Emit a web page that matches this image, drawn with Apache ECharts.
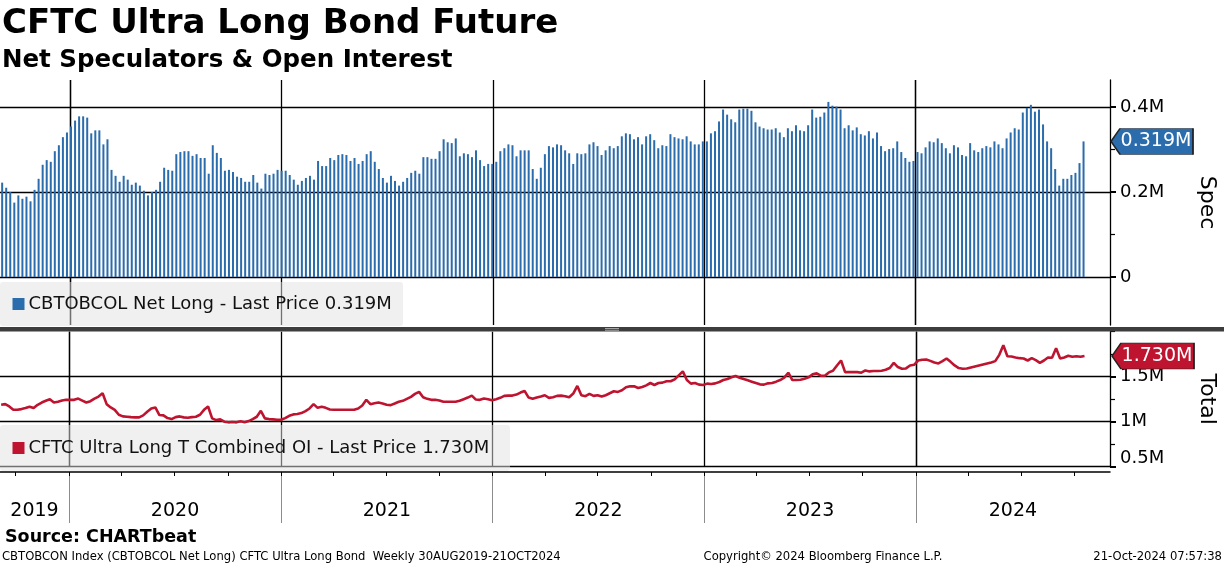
<!DOCTYPE html>
<html><head><meta charset="utf-8">
<script src="https://cdn.jsdelivr.net/npm/echarts@6/dist/echarts.min.js"></script>
<style>html,body{margin:0;padding:0;background:#fff}#c{width:1224px;height:566px}</style>
</head><body><div id="c"></div>
<script>
// Weekly CFTC data, Sep 2019 - Oct 2024 (millions of contracts)
const netLong = [
0.222,0.210,0.200,0.175,0.192,0.184,0.189,0.178,0.205,0.231,
0.264,0.275,0.271,0.296,0.310,0.329,0.340,0.354,0.368,0.378,
0.378,0.375,0.338,0.345,0.345,0.312,0.324,0.252,0.238,0.224,
0.238,0.229,0.217,0.222,0.215,0.203,0.192,0.200,0.205,0.224,
0.257,0.252,0.250,0.289,0.294,0.296,0.296,0.285,0.289,0.280,
0.280,0.243,0.310,0.292,0.280,0.250,0.252,0.247,0.236,0.233,
0.224,0.224,0.240,0.222,0.208,0.243,0.240,0.243,0.252,0.250,
0.250,0.240,0.229,0.217,0.226,0.233,0.238,0.229,0.273,0.261,
0.261,0.280,0.275,0.287,0.289,0.287,0.273,0.280,0.266,0.273,
0.289,0.296,0.271,0.254,0.233,0.222,0.238,0.226,0.215,0.224,
0.233,0.245,0.250,0.243,0.282,0.282,0.278,0.278,0.296,0.324,
0.317,0.315,0.326,0.284,0.291,0.289,0.282,0.298,0.275,0.261,
0.266,0.266,0.271,0.296,0.303,0.312,0.310,0.284,0.298,0.298,
0.298,0.254,0.231,0.257,0.289,0.308,0.305,0.312,0.310,0.298,
0.291,0.266,0.291,0.289,0.291,0.312,0.317,0.308,0.287,0.298,
0.308,0.303,0.308,0.331,0.338,0.336,0.324,0.329,0.312,0.331,
0.336,0.322,0.303,0.310,0.308,0.336,0.329,0.326,0.324,0.331,
0.319,0.312,0.312,0.319,0.319,0.338,0.343,0.366,0.394,0.382,
0.371,0.364,0.394,0.396,0.396,0.391,0.364,0.354,0.350,0.347,
0.347,0.350,0.340,0.329,0.350,0.343,0.357,0.345,0.343,0.357,
0.394,0.375,0.377,0.387,0.412,0.403,0.401,0.394,0.350,0.357,
0.345,0.352,0.336,0.333,0.343,0.326,0.340,0.308,0.296,0.301,
0.303,0.319,0.294,0.280,0.271,0.273,0.294,0.291,0.305,0.319,
0.317,0.326,0.315,0.303,0.291,0.310,0.305,0.287,0.284,0.315,
0.298,0.294,0.303,0.308,0.305,0.319,0.312,0.303,0.326,0.340,
0.350,0.347,0.387,0.398,0.405,0.389,0.394,0.359,0.319,0.303,
0.254,0.215,0.231,0.231,0.240,0.245,0.268,0.319];

const openInterest = [
1.188,1.195,1.169,1.132,1.132,1.140,1.151,1.165,1.151,1.188,
1.213,1.232,1.250,1.213,1.221,1.235,1.243,1.243,1.243,1.257,
1.235,1.213,1.228,1.257,1.279,1.316,1.195,1.158,1.132,1.077,
1.059,1.055,1.051,1.048,1.048,1.070,1.110,1.147,1.158,1.074,
1.070,1.040,1.029,1.051,1.059,1.048,1.044,1.051,1.055,1.077,
1.132,1.169,1.037,1.018,1.026,1.000,0.993,0.996,0.993,1.004,
0.993,1.007,1.029,1.055,1.121,1.037,1.029,1.026,1.022,1.022,
1.040,1.066,1.081,1.085,1.096,1.118,1.147,1.195,1.154,1.165,
1.154,1.136,1.132,1.132,1.132,1.132,1.132,1.132,1.147,1.180,
1.243,1.195,1.206,1.213,1.202,1.188,1.184,1.202,1.221,1.232,
1.254,1.276,1.309,1.331,1.272,1.254,1.243,1.243,1.235,1.221,
1.221,1.221,1.221,1.232,1.250,1.268,1.290,1.246,1.243,1.257,
1.250,1.239,1.250,1.265,1.287,1.290,1.290,1.301,1.324,1.342,
1.268,1.254,1.268,1.279,1.294,1.265,1.272,1.287,1.290,1.283,
1.272,1.313,1.397,1.294,1.283,1.309,1.287,1.294,1.279,1.294,
1.316,1.338,1.331,1.349,1.382,1.393,1.393,1.375,1.386,1.404,
1.430,1.408,1.430,1.434,1.449,1.449,1.471,1.515,1.559,1.463,
1.423,1.430,1.412,1.408,1.423,1.419,1.426,1.441,1.463,1.474,
1.493,1.507,1.489,1.474,1.460,1.445,1.430,1.415,1.412,1.426,
1.430,1.445,1.463,1.489,1.544,1.463,1.463,1.467,1.478,1.493,
1.526,1.537,1.511,1.511,1.548,1.566,1.625,1.680,1.551,1.551,
1.551,1.551,1.544,1.570,1.559,1.563,1.563,1.566,1.577,1.596,
1.654,1.607,1.588,1.592,1.625,1.632,1.680,1.688,1.691,1.676,
1.658,1.647,1.673,1.702,1.665,1.625,1.596,1.588,1.592,1.603,
1.614,1.625,1.636,1.647,1.658,1.673,1.743,1.849,1.728,1.724,
1.713,1.706,1.702,1.680,1.706,1.684,1.654,1.680,1.713,1.710,
1.816,1.702,1.713,1.732,1.721,1.728,1.721,1.730];

const years = [2019, 2020, 2021, 2022, 2023, 2024];
const specTicks = [0, 0.2, 0.4];
const specMinor = [0.1, 0.3];
const totalTicks = [0.5, 1, 1.5];
const totalMinor = [0.75, 1.25, 1.75, 2.0];

const BLUE = '#2b6cac';
const RED = '#be1430';
const FONT = '"DejaVu Sans", Verdana, sans-serif';

// weekly report dates (Fridays) starting 6 Sep 2019
const weekDates = netLong.map((_, i) => new Date(2019, 8, 6 + 7 * i).getTime());
const xMin = new Date(2019, 8, 4).getTime();
const xMax = new Date(2024, 11, 1).getTime();
const yearStarts = years.slice(1).map(y => new Date(y, 0, 1).getTime());
const bounds = [xMin].concat(yearStarts, [xMax]);
const yearMids = years.map((y, i) => (bounds[i] + bounds[i + 1]) / 2);
const quarterTicks = [];
for (let m = 0; m <= 60; m += 3) quarterTicks.push(new Date(2019, 9 + m, 1).getTime());

const lastNet = netLong[netLong.length - 1].toFixed(3) + 'M';
const lastOI = openInterest[openInterest.length - 1].toFixed(3) + 'M';

const chart = echarts.init(document.getElementById('c'));

function timeAxis(gridIndex) {
  return {
    type: 'time', gridIndex, min: xMin, max: xMax,
    axisLine: {show: false, onZero: false},
    axisTick: {show: false, customValues: yearStarts},
    axisLabel: {show: false},
    splitLine: {show: true, lineStyle: {color: '#000', width: 1.3}}
  };
}
function mainY(gridIndex, min, max, ticks, fmt, name) {
  return {
    type: 'value', gridIndex, position: 'right', min, max,
    axisLine: {show: true, onZero: false, lineStyle: {color: '#000', width: 1.3}},
    axisTick: {show: true, customValues: ticks, length: 6, lineStyle: {color: '#000', width: 2}},
    axisLabel: {show: true, customValues: ticks, formatter: fmt, margin: 10,
      color: '#000', fontSize: 18, fontFamily: FONT,
      rich: {low: {fontSize: 18, fontFamily: FONT, color: '#000', padding: [0, 0, 16, 0]}}},
    splitLine: {show: true, lineStyle: {color: '#000', width: 1.3}},
    name, nameLocation: 'middle', nameRotate: -90, nameGap: 86,
    nameTextStyle: {fontSize: 22, fontFamily: FONT, color: '#000'}
  };
}
function minorY(gridIndex, min, max, ticks) {
  return {
    type: 'value', gridIndex, position: 'right', min, max,
    axisLine: {show: false, onZero: false},
    axisTick: {show: true, customValues: ticks, length: 5, lineStyle: {color: '#000', width: 1.2}},
    axisLabel: {show: false},
    splitLine: {show: false}
  };
}
function tag(value, color, text) {
  return {
    silent: true,
    symbol: 'path://M0,13L9,0L82,0L82,26L9,26Z',
    symbolSize: [82, 26],
    symbolOffset: [43, 0],
    itemStyle: {color, borderColor: '#222', borderWidth: 1},
    label: {show: true, position: 'inside', offset: [4, 0], color: '#fff',
      fontSize: 19, fontFamily: FONT, formatter: () => text},
    data: [{coord: [xMax, value]}]
  };
}

const option = {
  animation: false,
  backgroundColor: '#fff',
  grid: [
    {left: 0, top: 80, width: 1110, height: 245, containLabel: false, outerBoundsMode: 'none'},
    {left: 0, top: 331.7, width: 1110, height: 135, containLabel: false, outerBoundsMode: 'none'},
    {left: 0, top: 472, width: 1110, height: 51, containLabel: false, outerBoundsMode: 'none'}
  ],
  xAxis: [
    timeAxis(0),
    timeAxis(1),
    {type: 'value', gridIndex: 2, min: xMin, max: xMax, position: 'top',
      axisLine: {show: true, onZero: false, lineStyle: {color: '#000', width: 1.5}},
      axisTick: {show: true, inside: true, length: 4, customValues: quarterTicks, lineStyle: {color: '#000', width: 1}},
      axisLabel: {show: false}, splitLine: {show: false}},
    {type: 'value', gridIndex: 2, min: xMin, max: xMax, position: 'bottom',
      axisLine: {show: false, onZero: false},
      axisTick: {show: false, customValues: yearStarts},
      axisLabel: {show: true, inside: true, customValues: yearMids, margin: 2,
        formatter: v => String(new Date(v).getFullYear()),
        color: '#000', fontSize: 19, fontFamily: FONT},
      splitLine: {show: true, lineStyle: {color: '#8c8c8c', width: 1}}}
  ],
  yAxis: [
    mainY(0, -0.113, 0.4635, specTicks, v => v === 0 ? '0' : (+v.toFixed(1)) + 'M', 'Spec'),
    minorY(0, -0.113, 0.4635, specMinor),
    mainY(1, 0.5, 2.0, totalTicks, v => v === 0.5 ? '{low|0.5M}' : (+v.toFixed(1)) + 'M', 'Total'),
    minorY(1, 0.5, 2.0, totalMinor),
    {type: 'value', gridIndex: 2, min: 0, max: 1, show: false}
  ],
  series: [
    {type: 'bar', name: 'CBTOBCOL Net Long', xAxisIndex: 0, yAxisIndex: 0,
      data: netLong.map((v, i) => [weekDates[i], v]),
      barWidth: 2, itemStyle: {color: BLUE}, clip: true, z: 3,
      markPoint: tag(netLong[netLong.length - 1], BLUE, lastNet)},
    {type: 'line', name: 'CFTC Ultra Long T Combined OI', xAxisIndex: 1, yAxisIndex: 2,
      data: openInterest.map((v, i) => [weekDates[i], v]),
      symbol: 'none', lineStyle: {color: RED, width: 2.6}, itemStyle: {color: RED}, clip: true, z: 3,
      markPoint: tag(openInterest[openInterest.length - 1], RED, lastOI)}
  ],
  graphic: [
    {type: 'text', x: 2, y: 24, z: 10, style: {text: 'CFTC Ultra Long Bond Future', font: 'bold 34px ' + FONT, fill: '#000', verticalAlign: 'middle'}},
    {type: 'text', x: 2, y: 61, z: 10, style: {text: 'Net Speculators & Open Interest', font: 'bold 24.5px ' + FONT, fill: '#000', verticalAlign: 'middle'}},
    // divider between panels
    {type: 'rect', z: 10, shape: {x: 0, y: 327, width: 1224, height: 4.5}, style: {fill: '#3d3d3d'}},
    {type: 'rect', z: 11, shape: {x: 605, y: 328, width: 14, height: 0.8}, style: {fill: '#bdbdbd'}},
    {type: 'rect', z: 11, shape: {x: 605, y: 329.8, width: 14, height: 0.8}, style: {fill: '#bdbdbd'}},
    // legend boxes
    {type: 'rect', z: 10, shape: {x: 0, y: 282, width: 403, height: 44, r: 3}, style: {fill: 'rgba(225,225,225,0.5)'}},
    {type: 'rect', z: 11, shape: {x: 12.5, y: 298, width: 12, height: 12}, style: {fill: BLUE}},
    {type: 'text', z: 11, x: 28.5, y: 304, style: {text: 'CBTOBCOL Net Long - Last Price ' + lastNet, font: '18px ' + FONT, fill: '#111', verticalAlign: 'middle'}},
    {type: 'rect', z: 10, shape: {x: 0, y: 425, width: 510, height: 46, r: 3}, style: {fill: 'rgba(225,225,225,0.5)'}},
    {type: 'rect', z: 11, shape: {x: 12.5, y: 442, width: 12, height: 12}, style: {fill: RED}},
    {type: 'text', z: 11, x: 28.5, y: 448, style: {text: 'CFTC Ultra Long T Combined OI - Last Price ' + lastOI, font: '18px ' + FONT, fill: '#111', verticalAlign: 'middle'}},
    // source and footer
    {type: 'text', x: 5, y: 537, z: 10, style: {text: 'Source: CHARTbeat', font: 'bold 17.5px ' + FONT, fill: '#000', verticalAlign: 'middle'}},
    {type: 'text', x: 2, y: 557, z: 10, style: {text: 'CBTOBCON Index (CBTOBCOL Net Long) CFTC Ultra Long Bond  Weekly 30AUG2019-21OCT2024', font: '11.6px ' + FONT, fill: '#000', verticalAlign: 'middle'}},
    {type: 'text', x: 823, y: 557, z: 10, style: {text: 'Copyright\u00a9 2024 Bloomberg Finance L.P.', font: '11.6px ' + FONT, fill: '#000', align: 'center', verticalAlign: 'middle'}},
    {type: 'text', x: 1222, y: 557, z: 10, style: {text: '21-Oct-2024 07:57:38', font: '11.6px ' + FONT, fill: '#000', align: 'right', verticalAlign: 'middle'}}
  ]
};
chart.setOption(option);
</script></body></html>
